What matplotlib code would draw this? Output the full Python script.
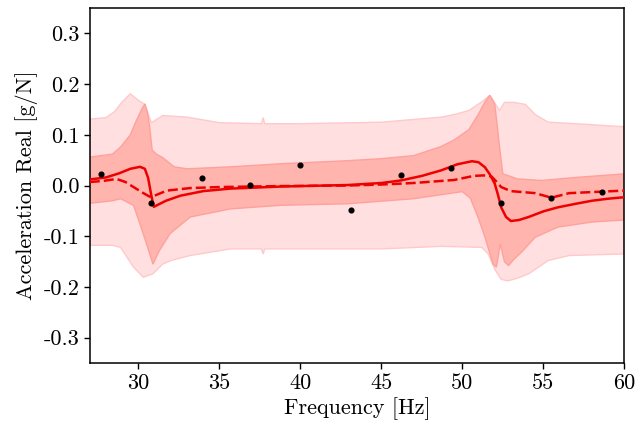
import numpy as np
import matplotlib
matplotlib.use("Agg")
import matplotlib.pyplot as plt

plt.rcParams['font.family'] = 'serif'
plt.rcParams['font.serif'] = ['cmr10', 'DejaVu Serif']
plt.rcParams['mathtext.fontset'] = 'cm'
plt.rcParams['axes.unicode_minus'] = False

# mean prediction (solid)
solid_f = [27.0, 28.0, 28.8, 29.5, 30.1, 30.4, 30.6, 30.8, 30.95, 31.2, 31.7, 32.6, 34.0, 35.7,
           38.8, 42.9, 45.0, 46.2, 47.5, 48.7, 49.7, 50.6, 51.0, 51.4, 51.7, 52.0, 52.2, 52.4,
           52.7, 53.0, 53.5, 54.1, 55.0, 55.9, 57.0, 58.0, 59.0, 60.0]
solid_y = [0.012, 0.016, 0.024, 0.033, 0.037, 0.033, 0.015, -0.020, -0.042, -0.038, -0.030, -0.020,
           -0.011, -0.006, -0.002, 0.001, 0.005, 0.010, 0.019, 0.030, 0.042, 0.048, 0.046, 0.036,
           0.022, 0.004, -0.018, -0.043, -0.062, -0.070, -0.068, -0.062, -0.051, -0.043, -0.036,
           -0.030, -0.026, -0.023]

# second estimate (dashed)
dashed_f = [27.0, 27.8, 28.65, 29.2, 29.7, 30.2, 30.7, 31.0, 31.75, 33.2, 35.0, 38.8, 42.9, 45.0,
            47.0, 49.5, 50.7, 51.3, 51.8, 52.1, 52.4, 53.0, 54.5, 55.5, 56.6, 58.6, 60.0]
dashed_y = [0.007, 0.009, 0.013, 0.007, -0.003, -0.013, -0.022, -0.020, -0.010, -0.005, -0.003,
            -0.001, 0.000, 0.002, 0.005, 0.011, 0.019, 0.020, 0.018, 0.008, -0.003, -0.011,
            -0.015, -0.024, -0.015, -0.012, -0.010]

# inner band
inner_up_f = [27.0, 28.4, 28.9, 29.5, 29.9, 30.2, 30.4, 30.55, 30.7, 30.85, 31.1, 31.5, 32.2, 33.0,
              35.7, 38.8, 42.9, 45.0, 47.0, 48.7, 49.5, 50.4, 51.0, 51.4, 51.7, 52.0, 52.15, 52.3,
              52.5, 52.8, 53.4, 54.9, 57.0, 60.0]
inner_up_y = [0.056, 0.062, 0.076, 0.100, 0.130, 0.150, 0.161, 0.145, 0.115, 0.070, 0.062, 0.055,
              0.037, 0.033, 0.037, 0.043, 0.049, 0.053, 0.059, 0.077, 0.090, 0.110, 0.141, 0.165,
              0.178, 0.161, 0.120, 0.076, 0.023, 0.020, 0.013, 0.010, 0.016, 0.023]
inner_lo_f = [27.0, 28.4, 28.9, 29.7, 30.1, 30.5, 30.9, 31.3, 31.95, 33.2, 35.7, 38.8, 42.9, 47.0,
              48.7, 50.0, 50.5, 51.0, 51.4, 51.9, 52.1, 52.35, 52.6, 52.85, 53.2, 53.7, 54.5, 55.9,
              58.0, 60.0]
inner_lo_y = [-0.035, -0.030, -0.026, -0.039, -0.076, -0.115, -0.155, -0.128, -0.095, -0.062,
              -0.046, -0.039, -0.036, -0.026, -0.018, -0.012, -0.025, -0.065, -0.102, -0.155,
              -0.161, -0.115, -0.150, -0.158, -0.145, -0.130, -0.102, -0.082, -0.072, -0.068]

# outer band
outer_up_f = [27.0, 28.0, 28.5, 29.0, 29.5, 30.0, 30.4, 30.8, 31.5, 33.0, 35.0, 37.6, 37.7, 37.8,
              40.0, 45.0, 48.7, 49.5, 50.4, 51.2, 51.7, 52.3, 52.6, 53.2, 53.9, 54.5, 55.3, 57.0, 60.0]
outer_up_y = [0.131, 0.134, 0.145, 0.165, 0.181, 0.168, 0.160, 0.124, 0.138, 0.135, 0.124, 0.122,
              0.134, 0.122, 0.122, 0.125, 0.135, 0.140, 0.148, 0.165, 0.178, 0.148, 0.164, 0.164,
              0.160, 0.140, 0.125, 0.122, 0.116]
outer_lo_f = [27.0, 28.4, 28.9, 29.7, 30.3, 30.9, 31.5, 32.0, 33.2, 35.7, 37.6, 37.7, 37.8, 40.0,
              45.0, 48.7, 51.2, 51.6, 52.0, 52.4, 52.8, 53.4, 54.1, 55.3, 56.6, 60.0]
outer_lo_y = [-0.118, -0.118, -0.122, -0.161, -0.181, -0.174, -0.155, -0.148, -0.138, -0.125,
              -0.125, -0.135, -0.125, -0.125, -0.125, -0.120, -0.122, -0.135, -0.165, -0.185,
              -0.188, -0.183, -0.174, -0.148, -0.138, -0.135]

# measurements
dot_f = [27.7, 30.8, 33.9, 36.9, 40.0, 43.1, 46.2, 49.3, 52.4, 55.5, 58.6]
dot_y = [0.022, -0.035, 0.014, 0.002, 0.041, -0.049, 0.020, 0.034, -0.035, -0.025, -0.013]

yticks = [-0.3, -0.2, -0.1, 0.0, 0.1, 0.2, 0.3]
ytick_labels = ['-0.3', '-0.2', '-0.1', '0.0', '0.1', '0.2', '0.3']
xticks = [30, 35, 40, 45, 50, 55, 60]

fig = plt.figure(figsize=(6.37, 4.29), dpi=100)
ax = fig.add_axes([0.141, 0.154, 0.839, 0.827])

# bands drawn as closed polygons (upper edge, then lower edge back)
ax.fill(outer_up_f + outer_lo_f[::-1], outer_up_y + outer_lo_y[::-1],
        facecolor='#ffdfe0', edgecolor='#ffc9ca', lw=1.0, zorder=1)
ax.fill(inner_up_f + inner_lo_f[::-1], inner_up_y + inner_lo_y[::-1],
        facecolor='#ffb4ae', edgecolor='#ffa19b', lw=1.0, zorder=2)

ax.plot(solid_f, solid_y, color='#ee0000', lw=1.8, zorder=3)
ax.plot(dashed_f, dashed_y, color='#ee0000', lw=1.8, ls=(0, (4, 1.6)), zorder=3)
ax.plot(dot_f, dot_y, 'o', color='black', ms=3.4, zorder=4)

ax.set_xlim(27, 60)
ax.set_ylim(-0.35, 0.35)
ax.set_xticks(xticks)
ax.set_xticklabels([str(v) for v in xticks])
ax.set_yticks(yticks)
ax.set_yticklabels(ytick_labels)
ax.tick_params(labelsize=16, length=4, width=1)
for s in ax.spines.values():
    s.set_linewidth(1.1)
ax.set_xlabel('Frequency [Hz]', fontsize=16, labelpad=3)
ax.set_ylabel('Acceleration Real [g/N]', fontsize=16, labelpad=4)

fig.savefig('out.png', dpi=100)
